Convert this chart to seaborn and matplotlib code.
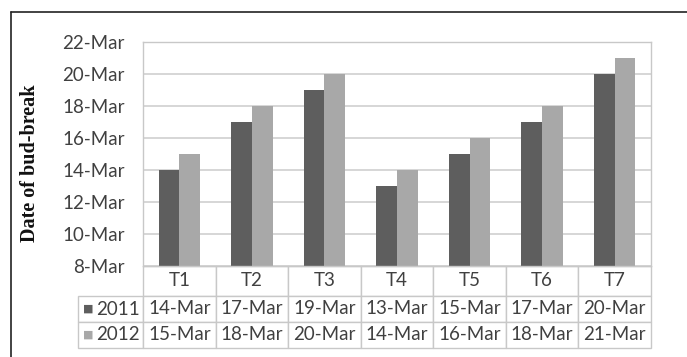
import matplotlib
matplotlib.use("Agg")
import matplotlib.pyplot as plt
import seaborn as sns
import pandas as pd
from matplotlib.lines import Line2D

# bud-break day (day of March)
treatments = ["T1", "T2", "T3", "T4", "T5", "T6", "T7"]
days_2011 = [14, 17, 19, 13, 15, 17, 20]
days_2012 = [15, 18, 20, 14, 16, 18, 21]
years = ["2011", "2012"]
colors = ["#5e5e5e", "#a8a8a8"]
yticks = [8, 10, 12, 14, 16, 18, 20, 22]

df = pd.DataFrame({
    "treatment": treatments * 2,
    "year": [years[0]] * 7 + [years[1]] * 7,
    "day": days_2011 + days_2012,
})

sns.set_style("white")
plt.rcParams['font.family'] = ['Lato', 'DejaVu Sans']
txt_col = "#404040"
line_col = "#c8c8c8"
fs = 13.5

fig = plt.figure(figsize=(6.87, 3.57), dpi=100)
ax = fig.add_axes([143/687, 1-266/357, 508/687, 224/357])

sns.barplot(data=df, x="treatment", y="day", hue="year", palette=colors,
            width=0.57, saturation=1, ax=ax, legend=False, linewidth=0)

ax.set_ylim(8, 22)
ax.set_yticks(yticks)
ax.set_yticklabels([f"{d}-Mar" for d in yticks], color=txt_col, fontsize=fs)
ax.tick_params(axis="y", length=0, pad=13)
ax.set_xticks([])
ax.set_xlabel("")
ax.set_ylabel("")
ax.yaxis.grid(True, color="#cfcfcf", linewidth=1.2)
ax.set_axisbelow(True)
for s in ax.spines.values():
    s.set_color(line_col)
    s.set_linewidth(1)

# data table under the bars
cell_text = [[""] + [f"{d}-Mar" for d in days_2011],
             [""] + [f"{d}-Mar" for d in days_2012]]
lab_w = 65 / 508
tab = ax.table(cellText=cell_text, colLabels=[""] + treatments,
               colWidths=[lab_w] + [1/7] * 7, cellLoc="center",
               bbox=[-lab_w, -82/224, 1 + lab_w, 82/224])
tab.auto_set_font_size(False)
tab.set_fontsize(fs)
for (r, c), cell in tab.get_celld().items():
    cell.set_edgecolor(line_col)
    cell.get_text().set_color(txt_col)
    cell.set_height(30 if r == 0 else 26)
    if r == 0 and c == 0:
        cell.visible_edges = ""

# legend keys in the first table column
for i, y in enumerate([-0.192, -0.308]):
    ax.text(-55/508, y, "■", color=colors[i], fontsize=8,
            ha="center", va="center", transform=ax.transAxes,
            family="DejaVu Sans")
    ax.text(-3/508, y, years[i], color=txt_col, fontsize=fs,
            ha="right", va="center", transform=ax.transAxes)

fig.text(30/687, 1-163/357, "Date of bud-break", rotation=90,
         ha="center", va="center", fontsize=14.5, fontweight="bold",
         family="Liberation Serif", color="#111111")

# frame around the figure
fig.add_artist(Line2D([11/687, 1], [1-12/357, 1-12/357], color="#222222", lw=1.2))
fig.add_artist(Line2D([11/687, 11/687], [0, 1-12/357], color="#222222", lw=1.2))

fig.savefig("out.png", dpi=100)
